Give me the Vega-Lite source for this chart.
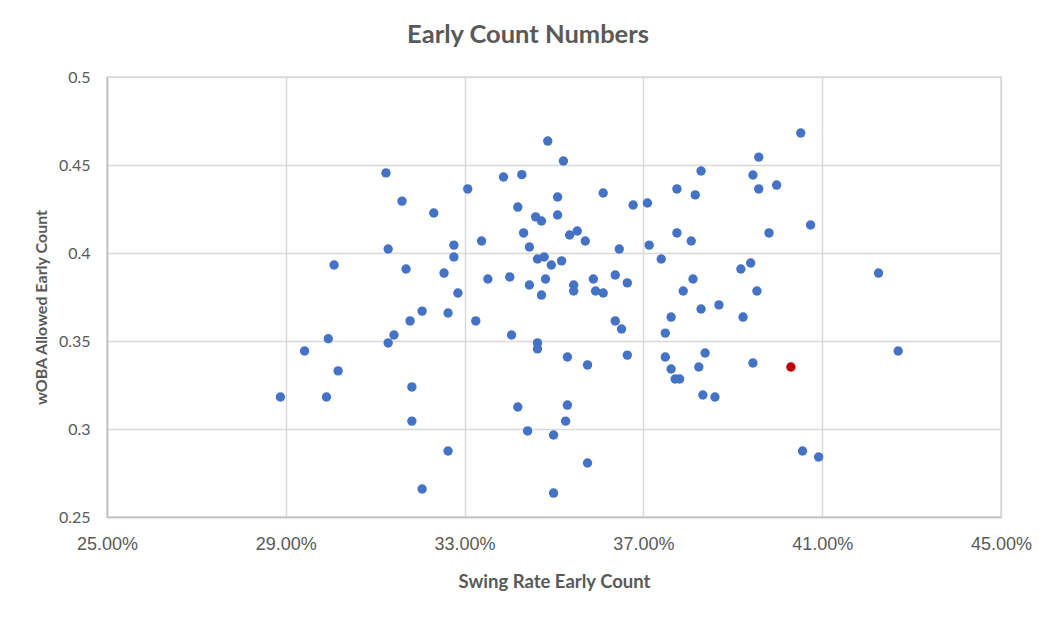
{
  "$schema": "https://vega.github.io/schema/vega-lite/v6.json",
  "width": 894,
  "height": 440,
  "autosize": {"type": "none"},
  "padding": {"left": 107, "top": 77, "right": 53, "bottom": 103},
  "background": "white",
  "title": {
    "text": "Early Count Numbers",
    "font": "Lato",
    "fontSize": 25.5,
    "fontWeight": "bold",
    "color": "#595959",
    "anchor": "middle",
    "dx": -26,
    "baseline": "alphabetic",
    "offset": 1
  },
  "data": {
    "values": [
      {"swing": 0.3486, "woba": 0.4636, "hl": "no"},
      {"swing": 0.3124, "woba": 0.4455, "hl": "no"},
      {"swing": 0.3387, "woba": 0.4432, "hl": "no"},
      {"swing": 0.3428, "woba": 0.4445, "hl": "no"},
      {"swing": 0.3307, "woba": 0.4364, "hl": "no"},
      {"swing": 0.3160, "woba": 0.4295, "hl": "no"},
      {"swing": 0.3231, "woba": 0.4227, "hl": "no"},
      {"swing": 0.3508, "woba": 0.4318, "hl": "no"},
      {"swing": 0.3419, "woba": 0.4261, "hl": "no"},
      {"swing": 0.3459, "woba": 0.4205, "hl": "no"},
      {"swing": 0.3472, "woba": 0.4182, "hl": "no"},
      {"swing": 0.3508, "woba": 0.4216, "hl": "no"},
      {"swing": 0.3432, "woba": 0.4114, "hl": "no"},
      {"swing": 0.3338, "woba": 0.4068, "hl": "no"},
      {"swing": 0.3276, "woba": 0.4045, "hl": "no"},
      {"swing": 0.3129, "woba": 0.4023, "hl": "no"},
      {"swing": 0.3445, "woba": 0.4034, "hl": "no"},
      {"swing": 0.3276, "woba": 0.3977, "hl": "no"},
      {"swing": 0.3463, "woba": 0.3966, "hl": "no"},
      {"swing": 0.3478, "woba": 0.3977, "hl": "no"},
      {"swing": 0.3494, "woba": 0.3932, "hl": "no"},
      {"swing": 0.3517, "woba": 0.3955, "hl": "no"},
      {"swing": 0.3008, "woba": 0.3932, "hl": "no"},
      {"swing": 0.3169, "woba": 0.3909, "hl": "no"},
      {"swing": 0.3254, "woba": 0.3886, "hl": "no"},
      {"swing": 0.3352, "woba": 0.3852, "hl": "no"},
      {"swing": 0.3401, "woba": 0.3864, "hl": "no"},
      {"swing": 0.3445, "woba": 0.3818, "hl": "no"},
      {"swing": 0.3481, "woba": 0.3852, "hl": "no"},
      {"swing": 0.3472, "woba": 0.3761, "hl": "no"},
      {"swing": 0.3285, "woba": 0.3773, "hl": "no"},
      {"swing": 0.3205, "woba": 0.3670, "hl": "no"},
      {"swing": 0.3263, "woba": 0.3659, "hl": "no"},
      {"swing": 0.3178, "woba": 0.3614, "hl": "no"},
      {"swing": 0.3325, "woba": 0.3614, "hl": "no"},
      {"swing": 0.3142, "woba": 0.3534, "hl": "no"},
      {"swing": 0.3405, "woba": 0.3534, "hl": "no"},
      {"swing": 0.2995, "woba": 0.3513, "hl": "no"},
      {"swing": 0.3129, "woba": 0.3489, "hl": "no"},
      {"swing": 0.3463, "woba": 0.3489, "hl": "no"},
      {"swing": 0.3463, "woba": 0.3455, "hl": "no"},
      {"swing": 0.2942, "woba": 0.3443, "hl": "no"},
      {"swing": 0.3017, "woba": 0.3330, "hl": "no"},
      {"swing": 0.2888, "woba": 0.3182, "hl": "no"},
      {"swing": 0.2991, "woba": 0.3182, "hl": "no"},
      {"swing": 0.3182, "woba": 0.3239, "hl": "no"},
      {"swing": 0.3182, "woba": 0.3045, "hl": "no"},
      {"swing": 0.3419, "woba": 0.3125, "hl": "no"},
      {"swing": 0.3441, "woba": 0.2989, "hl": "no"},
      {"swing": 0.3499, "woba": 0.2966, "hl": "no"},
      {"swing": 0.3263, "woba": 0.2875, "hl": "no"},
      {"swing": 0.3205, "woba": 0.2659, "hl": "no"},
      {"swing": 0.3499, "woba": 0.2636, "hl": "no"},
      {"swing": 0.3521, "woba": 0.4523, "hl": "no"},
      {"swing": 0.3610, "woba": 0.4341, "hl": "no"},
      {"swing": 0.3677, "woba": 0.4273, "hl": "no"},
      {"swing": 0.3709, "woba": 0.4284, "hl": "no"},
      {"swing": 0.3535, "woba": 0.4102, "hl": "no"},
      {"swing": 0.3552, "woba": 0.4125, "hl": "no"},
      {"swing": 0.3570, "woba": 0.4068, "hl": "no"},
      {"swing": 0.3646, "woba": 0.4023, "hl": "no"},
      {"swing": 0.3713, "woba": 0.4045, "hl": "no"},
      {"swing": 0.3740, "woba": 0.3966, "hl": "no"},
      {"swing": 0.3775, "woba": 0.4364, "hl": "no"},
      {"swing": 0.3816, "woba": 0.4330, "hl": "no"},
      {"swing": 0.3829, "woba": 0.4466, "hl": "no"},
      {"swing": 0.3775, "woba": 0.4114, "hl": "no"},
      {"swing": 0.3807, "woba": 0.4068, "hl": "no"},
      {"swing": 0.3945, "woba": 0.4443, "hl": "no"},
      {"swing": 0.3958, "woba": 0.4545, "hl": "no"},
      {"swing": 0.3958, "woba": 0.4364, "hl": "no"},
      {"swing": 0.3998, "woba": 0.4386, "hl": "no"},
      {"swing": 0.4052, "woba": 0.4682, "hl": "no"},
      {"swing": 0.4074, "woba": 0.4159, "hl": "no"},
      {"swing": 0.3981, "woba": 0.4114, "hl": "no"},
      {"swing": 0.3918, "woba": 0.3909, "hl": "no"},
      {"swing": 0.3940, "woba": 0.3943, "hl": "no"},
      {"swing": 0.3954, "woba": 0.3784, "hl": "no"},
      {"swing": 0.3923, "woba": 0.3636, "hl": "no"},
      {"swing": 0.3544, "woba": 0.3818, "hl": "no"},
      {"swing": 0.3544, "woba": 0.3784, "hl": "no"},
      {"swing": 0.3588, "woba": 0.3852, "hl": "no"},
      {"swing": 0.3593, "woba": 0.3784, "hl": "no"},
      {"swing": 0.3610, "woba": 0.3773, "hl": "no"},
      {"swing": 0.3637, "woba": 0.3875, "hl": "no"},
      {"swing": 0.3664, "woba": 0.3830, "hl": "no"},
      {"swing": 0.3637, "woba": 0.3614, "hl": "no"},
      {"swing": 0.3651, "woba": 0.3568, "hl": "no"},
      {"swing": 0.3749, "woba": 0.3545, "hl": "no"},
      {"swing": 0.3762, "woba": 0.3636, "hl": "no"},
      {"swing": 0.3789, "woba": 0.3784, "hl": "no"},
      {"swing": 0.3811, "woba": 0.3852, "hl": "no"},
      {"swing": 0.3829, "woba": 0.3682, "hl": "no"},
      {"swing": 0.3869, "woba": 0.3705, "hl": "no"},
      {"swing": 0.3530, "woba": 0.3409, "hl": "no"},
      {"swing": 0.3575, "woba": 0.3364, "hl": "no"},
      {"swing": 0.3664, "woba": 0.3420, "hl": "no"},
      {"swing": 0.3749, "woba": 0.3409, "hl": "no"},
      {"swing": 0.3762, "woba": 0.3341, "hl": "no"},
      {"swing": 0.3771, "woba": 0.3284, "hl": "no"},
      {"swing": 0.3781, "woba": 0.3284, "hl": "no"},
      {"swing": 0.3824, "woba": 0.3352, "hl": "no"},
      {"swing": 0.3838, "woba": 0.3432, "hl": "no"},
      {"swing": 0.3833, "woba": 0.3193, "hl": "no"},
      {"swing": 0.3860, "woba": 0.3182, "hl": "no"},
      {"swing": 0.3945, "woba": 0.3375, "hl": "no"},
      {"swing": 0.3530, "woba": 0.3136, "hl": "no"},
      {"swing": 0.3526, "woba": 0.3045, "hl": "no"},
      {"swing": 0.3575, "woba": 0.2807, "hl": "no"},
      {"swing": 0.4056, "woba": 0.2875, "hl": "no"},
      {"swing": 0.4092, "woba": 0.2841, "hl": "no"},
      {"swing": 0.4226, "woba": 0.3886, "hl": "no"},
      {"swing": 0.4270, "woba": 0.3443, "hl": "no"},
      {"swing": 0.4030, "woba": 0.3352, "hl": "yes"}
    ]
  },
  "mark": {"type": "circle", "size": 88, "opacity": 1},
  "encoding": {
    "x": {
      "field": "swing",
      "type": "quantitative",
      "scale": {"domain": [0.25, 0.45], "nice": false, "zero": false},
      "axis": {
        "title": "Swing Rate Early Count",
        "values": [0.25, 0.29, 0.33, 0.37, 0.41, 0.45],
        "format": ".2%",
        "ticks": false,
        "labelFlush": false,
        "labelPadding": 18,
        "labelFont": "Liberation Sans",
        "labelFontSize": 18,
        "labelColor": "#595959",
        "domainColor": "#bfbfbf",
        "domainWidth": 1.5,
        "gridColor": "#d9d9d9",
        "gridWidth": 1.5,
        "titleFont": "Lato",
        "titleFontSize": 18.5,
        "titleFontWeight": "bold",
        "titleColor": "#595959",
        "titleBaseline": "alphabetic",
        "titleY": 70
      }
    },
    "y": {
      "field": "woba",
      "type": "quantitative",
      "scale": {"domain": [0.25, 0.5], "nice": false, "zero": false},
      "axis": {
        "title": "wOBA Allowed Early Count",
        "values": [0.25, 0.3, 0.35, 0.4, 0.45, 0.5],
        "format": ".2~f",
        "ticks": false,
        "labelFlush": false,
        "labelPadding": 17,
        "labelFont": "Lato",
        "labelFontSize": 16,
        "labelColor": "#595959",
        "domainColor": "#bfbfbf",
        "domainWidth": 1.5,
        "gridColor": "#d9d9d9",
        "gridWidth": 1.5,
        "titleFont": "Lato",
        "titleFontSize": 16,
        "titleFontWeight": "bold",
        "titleColor": "#595959",
        "titleAngle": 270,
        "titleAlign": "center",
        "titleBaseline": "middle",
        "titleX": -66,
        "titleY": 230
      }
    },
    "color": {
      "field": "hl",
      "type": "nominal",
      "scale": {"domain": ["no", "yes"], "range": ["#4472C4", "#C00000"]},
      "legend": null
    },
    "order": {"field": "hl", "type": "nominal"}
  },
  "config": {
    "view": {"stroke": "#d9d9d9", "strokeWidth": 1.5}
  }
}
